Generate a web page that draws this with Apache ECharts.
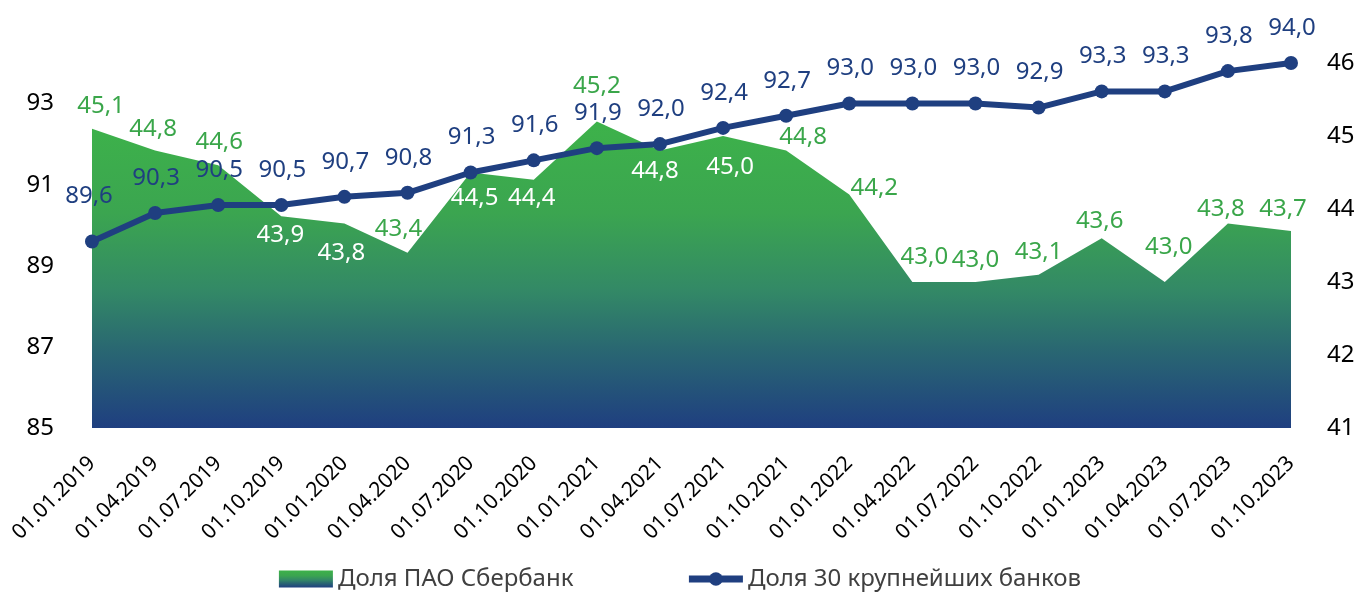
<!DOCTYPE html>
<html>
<head>
<meta charset="utf-8">
<script src="https://cdn.jsdelivr.net/npm/echarts@6/dist/echarts.min.js"></script>
<style>
  html, body { margin: 0; padding: 0; background: #fff; }
  #chart { width: 1360px; height: 599px; }
</style>
</head>
<body>
<div id="chart"></div>
<script>
// data
const categories = ['01.01.2019', '01.04.2019', '01.07.2019', '01.10.2019', '01.01.2020', '01.04.2020',
  '01.07.2020', '01.10.2020', '01.01.2021', '01.04.2021', '01.07.2021', '01.10.2021', '01.01.2022',
  '01.04.2022', '01.07.2022', '01.10.2022', '01.01.2023', '01.04.2023', '01.07.2023', '01.10.2023']
const sberShare = [45.1, 44.8, 44.6, 43.9, 43.8, 43.4, 44.5, 44.4, 45.2, 44.8, 45.0, 44.8, 44.2, 43.0, 43.0, 43.1, 43.6, 43.0, 43.8, 43.7]
const top30Share = [89.6, 90.3, 90.5, 90.5, 90.7, 90.8, 91.3, 91.6, 91.9, 92.0, 92.4, 92.7, 93.0, 93.0, 93.0, 92.9, 93.3, 93.3, 93.8, 94.0]
const leftTicks = [85, 87, 89, 91, 93]
const rightTicks = [41, 42, 43, 44, 45, 46]

// label placement (layout only)
const sberLabelOffsets = [[9, -23], [-2, -21], [1, -23], [-1, 19], [-3, 30], [-9, -24], [4, 26], [-2, 18], [0, -35], [-5, 21],
  [7, 31], [17, -13], [25, -6], [12, -25], [0, -22], [0, -23], [-2, -17], [4, -35], [-7, -14], [-8, -22]]
const sberWhiteLabels = [3, 4, 6, 7, 9, 10]

const GREEN = '#3aa64a'
const NAVY = '#1f3f80'
const FONT = '"Noto Sans", "Open Sans", sans-serif'

const fmt = v => v.toFixed(1).replace('.', ',')

const areaGradient = () => new echarts.graphic.LinearGradient(0, 0, 0, 1, [
  { offset: 0, color: '#3db24a' },
  { offset: 0.3, color: '#3ba550' },
  { offset: 0.55, color: '#338966' },
  { offset: 0.75, color: '#296672' },
  { offset: 1, color: '#1f3f80' }
])

const chart = echarts.init(document.getElementById('chart'))

chart.setOption({
  backgroundColor: '#fff',
  animation: false,
  textStyle: { fontFamily: FONT },
  grid: { left: 92, right: 69, top: 63, bottom: 171, containLabel: false },
  legend: {
    bottom: 3,
    left: 'center',
    itemWidth: 54,
    itemHeight: 17,
    itemGap: 112,
    textStyle: { fontFamily: FONT, fontSize: 24, color: '#404040' },
    data: [
      { name: 'Доля ПАО Сбербанк', icon: 'rect', itemStyle: { color: areaGradient() } },
      { name: 'Доля 30 крупнейших банков', itemStyle: { color: NAVY }, lineStyle: { color: NAVY, width: 7 } }
    ]
  },
  xAxis: {
    type: 'category',
    boundaryGap: false,
    data: categories,
    axisLine: { show: false },
    axisTick: { show: false },
    axisLabel: { rotate: 45, interval: 0, margin: 32, fontSize: 21, color: '#000', fontFamily: FONT }
  },
  yAxis: [
    {
      type: 'value', min: 85, max: 94, interval: 1, position: 'left',
      splitLine: { show: false }, axisLine: { show: false }, axisTick: { show: false },
      axisLabel: {
        margin: 38, fontSize: 24, color: '#000', fontFamily: FONT,
        formatter: v => leftTicks.includes(v) ? String(v) : ''
      }
    },
    {
      type: 'value', min: 41, max: 46, interval: 1, position: 'right',
      splitLine: { show: false }, axisLine: { show: false }, axisTick: { show: false },
      axisLabel: {
        margin: 36, fontSize: 24, color: '#000', fontFamily: FONT,
        formatter: v => rightTicks.includes(v) ? String(v) : ''
      }
    }
  ],
  series: [
    {
      name: 'Доля ПАО Сбербанк',
      type: 'line',
      yAxisIndex: 1,
      z: 1,
      symbol: 'circle',
      symbolSize: 1,
      showSymbol: true,
      lineStyle: { width: 0 },
      itemStyle: { color: 'rgba(0,0,0,0)' },
      areaStyle: { origin: 'start', color: areaGradient(), opacity: 1 },
      data: sberShare.map((v, i) => ({
        value: v,
        label: {
          show: true,
          position: 'inside',
          offset: sberLabelOffsets[i],
          formatter: p => fmt(p.value),
          fontSize: 24,
          fontFamily: FONT,
          color: sberWhiteLabels.includes(i) ? '#fff' : GREEN
        }
      }))
    },
    {
      name: 'Доля 30 крупнейших банков',
      type: 'line',
      yAxisIndex: 0,
      z: 3,
      symbol: 'circle',
      symbolSize: 14,
      lineStyle: { width: 6, color: NAVY },
      itemStyle: { color: NAVY },
      label: {
        show: true,
        position: 'inside',
        offset: [1, -35],
        formatter: p => fmt(p.value),
        fontSize: 24,
        fontFamily: FONT,
        color: NAVY
      },
      data: top30Share.map((v, i) => i === 0 ? { value: v, label: { offset: [-3, -45] } } : v)
    }
  ]
})

window.addEventListener('resize', () => chart.resize())
</script>
</body>
</html>
